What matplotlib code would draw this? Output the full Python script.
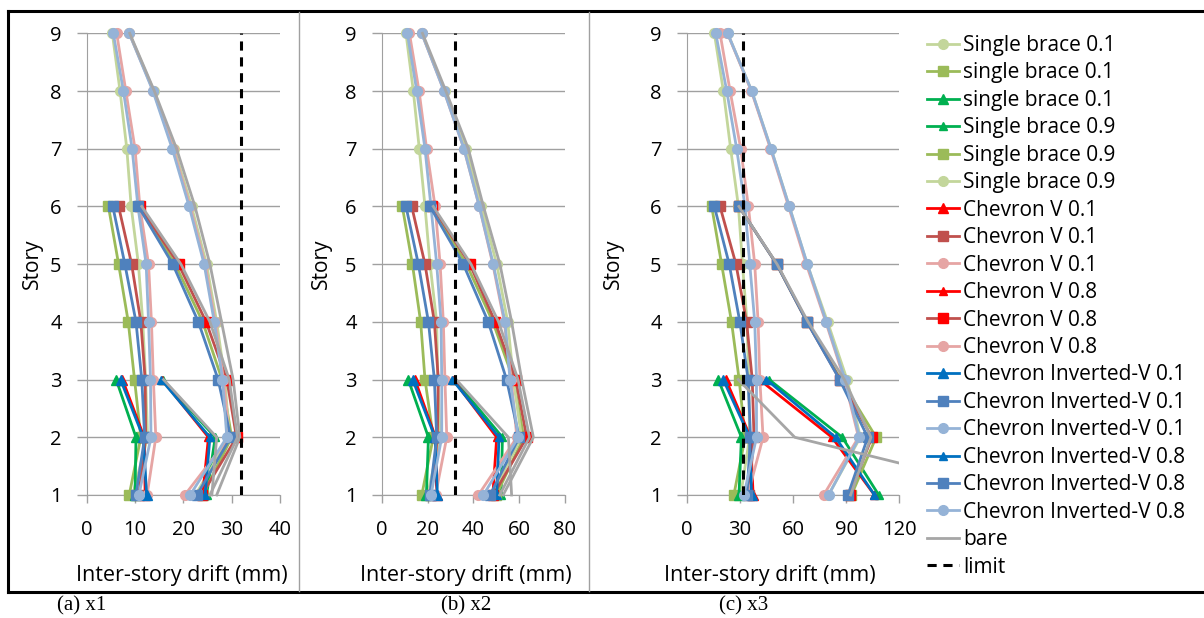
import matplotlib
matplotlib.use("Agg")
import matplotlib.pyplot as plt
from matplotlib.lines import Line2D
from matplotlib.transforms import Bbox, TransformedBbox

# ---------------- data (values listed from story 1 upward) ----------------
stories9 = [1, 2, 3, 4, 5, 6, 7, 8, 9]
stories6 = [1, 2, 3, 4, 5, 6]
stories3 = [1, 2, 3]
limit_drift = 32

# panel (a) x1
a_sb01_c = [9.5, 12.6, 12.2, 11.6, 10.7, 9.2, 8.3, 6.9, 5.3]
a_sb01_s = [8.8, 11.2, 9.9, 8.6, 6.6, 4.5]
a_sb01_t = [10.0, 10.2, 6.1]
a_sb09_t = [24.8, 26.6, 15.7]
a_sb09_s = [24.0, 30.0, 28.0, 24.0, 18.3, 10.8]
a_sb09_c = [22.5, 29.5, 28.6, 26.9, 24.8, 21.7, 18.1, 13.9, 8.8]
a_cv01_t = [12.1, 11.9, 7.4]
a_cv01_s = [10.8, 12.2, 12.1, 11.2, 9.3, 6.6]
a_cv01_c = [12.5, 14.3, 13.8, 13.4, 12.8, 11.0, 10.0, 8.1, 6.2]
a_cv08_t = [24.0, 25.2, 15.6]
a_cv08_s = [23.8, 31.0, 29.0, 24.7, 19.0, 11.0]
a_cv08_c = [20.3, 29.5, 28.3, 26.6, 24.5, 21.4, 17.9, 13.8, 8.8]
a_iv01_t = [12.4, 11.7, 7.0]
a_iv01_s = [10.2, 12.0, 11.4, 10.2, 7.9, 5.4]
a_iv01_c = [10.8, 13.3, 13.2, 12.8, 12.3, 10.6, 9.4, 7.6, 5.5]
a_iv08_t = [24.5, 25.5, 15.4]
a_iv08_s = [22.8, 29.8, 27.2, 23.1, 17.8, 10.7]
a_iv08_c = [21.4, 29.0, 28.1, 26.4, 24.3, 21.2, 17.7, 13.7, 8.8]
a_bare9 = [26.9, 31.7, 30.3, 27.9, 25.5, 22.4, 18.6, 14.0, 8.9]
a_bare6 = [25.5, 31.2, 29.5, 25.5, 19.5, 11.4]
a_bare3 = [25.9, 26.9, 15.9]

# panel (b) x2
b_sb01_c = [20.0, 25.5, 24.5, 24.0, 21.1, 18.9, 16.4, 13.8, 10.6]
b_sb01_s = [17.5, 22.5, 18.9, 17.0, 13.4, 9.0]
b_sb01_t = [19.5, 20.4, 11.6]
b_sb09_t = [52.1, 52.7, 31.7]
b_sb09_s = [50.0, 62.0, 57.5, 48.5, 37.0, 21.5]
b_sb09_c = [48.0, 61.0, 57.5, 55.0, 50.2, 43.5, 37.0, 27.5, 17.5]
b_cv01_t = [24.0, 23.5, 14.5]
b_cv01_s = [21.5, 24.3, 24.7, 23.0, 18.9, 13.1]
b_cv01_c = [23.5, 28.4, 27.6, 26.9, 25.5, 23.3, 19.6, 16.3, 12.1]
b_cv08_t = [48.5, 50.2, 31.2]
b_cv08_s = [48.7, 63.3, 58.5, 49.5, 38.5, 22.1]
b_cv08_c = [42.2, 59.0, 56.5, 53.5, 48.5, 42.6, 35.9, 27.2, 17.5]
b_iv01_t = [24.3, 23.3, 13.5]
b_iv01_s = [21.0, 24.0, 23.0, 20.4, 16.0, 10.6]
b_iv01_c = [21.5, 26.2, 26.2, 25.9, 24.0, 21.5, 18.9, 15.3, 11.2]
b_iv08_t = [50.2, 51.2, 30.8]
b_iv08_s = [47.3, 60.0, 54.5, 46.5, 35.6, 21.1]
b_iv08_c = [44.4, 59.6, 56.0, 53.8, 48.7, 42.6, 35.9, 27.2, 17.5]
b_bare9 = [53.0, 66.2, 61.1, 56.7, 51.6, 44.4, 37.8, 28.0, 17.8]
b_bare6 = [51.5, 64.5, 59.5, 51.0, 39.0, 22.5]
b_bare3 = [56.7, 55.3, 32.5]

# panel (c) x3
c_sb01_c = [30.5, 35.5, 35.0, 34.0, 31.5, 29.2, 24.8, 20.7, 15.6]
c_sb01_s = [26.6, 33.0, 29.6, 25.3, 19.7, 14.1]
c_sb01_t = [29.5, 30.9, 17.8]
c_sb09_t = [108.4, 87.8, 46.5]
c_sb09_s = [93.0, 106.9, 87.0, 67.9, 50.8, 29.5]
c_sb09_c = [80.0, 98.0, 90.5, 79.5, 68.0, 57.9, 47.6, 36.7, 23.1]
c_cv01_t = [37.5, 36.0, 22.1]
c_cv01_s = [35.0, 38.0, 37.0, 33.8, 27.8, 18.8]
c_cv01_c = [34.5, 43.1, 41.3, 40.3, 38.4, 34.8, 30.5, 24.5, 18.8]
c_cv08_t = [106.0, 82.0, 41.0]
c_cv08_s = [92.0, 104.5, 86.5, 67.9, 50.8, 29.5]
c_cv08_c = [77.3, 97.0, 89.0, 78.5, 67.5, 57.5, 47.3, 36.5, 23.0]
c_iv01_t = [36.6, 35.6, 20.6]
c_iv01_s = [34.0, 36.0, 34.7, 30.0, 24.0, 15.6]
c_iv01_c = [32.3, 39.4, 39.4, 38.4, 35.6, 32.9, 28.2, 22.6, 16.4]
c_iv08_t = [106.0, 84.0, 45.0]
c_iv08_s = [91.0, 102.2, 86.3, 67.9, 50.8, 29.5]
c_iv08_c = [80.1, 97.5, 89.4, 78.8, 68.1, 57.9, 47.6, 36.7, 23.1]
c_bare6 = [92.5, 104.0, 89.0, 68.5, 51.0, 29.5]
c_bare3 = [193.0, 61.0, 29.1]

series_labels = ["Single brace 0.1", "single brace 0.1", "single brace 0.1",
                 "Single brace 0.9", "Single brace 0.9", "Single brace 0.9",
                 "Chevron V 0.1", "Chevron V 0.1", "Chevron V 0.1",
                 "Chevron V 0.8", "Chevron V 0.8", "Chevron V 0.8",
                 "Chevron Inverted-V 0.1", "Chevron Inverted-V 0.1", "Chevron Inverted-V 0.1",
                 "Chevron Inverted-V 0.8", "Chevron Inverted-V 0.8", "Chevron Inverted-V 0.8"]

panel_names = ["(a) x1", "(b) x2", "(c) x3"]
x_maxes = [40, 80, 120]
x_steps = [10, 20, 30]

# ---------------- styles ----------------
LG, G, DG = "#C3D69B", "#9BBB59", "#00B050"
R, DR, PK = "#FF0000", "#C0504D", "#E6A5A4"
B, MB, LB = "#0070C0", "#4F81BD", "#95B3D7"
GRAY = "#A6A6A6"
# (line colour, marker, marker size, marker colour)
styles = [
    (LG, "o", 7, LG), (G, "s", 6.5, G), (DG, "^", 7.5, DG),
    (DG, "^", 5.5, DG), (G, "s", 6.5, G), (LG, "o", 7, LG),
    (R, "^", 7.5, R), (DR, "s", 6.5, DR), (PK, "o", 7, PK),
    (R, "^", 5.5, R), (DR, "s", 6.5, R), (PK, "o", 7, PK),
    (B, "^", 7.5, B), (MB, "s", 6.5, MB), (LB, "o", 7, LB),
    (B, "^", 5.5, B), (MB, "s", 6.5, MB), (LB, "o", 7, LB),
]

panel_series = [
    [a_sb01_c, a_sb01_s, a_sb01_t, a_sb09_t, a_sb09_s, a_sb09_c,
     a_cv01_t, a_cv01_s, a_cv01_c, a_cv08_t, a_cv08_s, a_cv08_c,
     a_iv01_t, a_iv01_s, a_iv01_c, a_iv08_t, a_iv08_s, a_iv08_c],
    [b_sb01_c, b_sb01_s, b_sb01_t, b_sb09_t, b_sb09_s, b_sb09_c,
     b_cv01_t, b_cv01_s, b_cv01_c, b_cv08_t, b_cv08_s, b_cv08_c,
     b_iv01_t, b_iv01_s, b_iv01_c, b_iv08_t, b_iv08_s, b_iv08_c],
    [c_sb01_c, c_sb01_s, c_sb01_t, c_sb09_t, c_sb09_s, c_sb09_c,
     c_cv01_t, c_cv01_s, c_cv01_c, c_cv08_t, c_cv08_s, c_cv08_c,
     c_iv01_t, c_iv01_s, c_iv01_c, c_iv08_t, c_iv08_s, c_iv08_c],
]
panel_bare = [[a_bare9, a_bare6, a_bare3], [b_bare9, b_bare6, b_bare3], [c_bare6, c_bare3]]

FONT = "Open Sans"
plt.rcParams["font.family"] = [FONT, "DejaVu Sans"]

W, H = 1204, 618
fig = plt.figure(figsize=(W / 100, H / 100), dpi=100)


def fx(px):
    return px / W


def fy(py):
    return 1 - py / H


# axes pixel boxes: left, top(story 9), right(x max), bottom(story 1)
boxes = [(86.7, 33.3, 280.0, 495.0), (381.7, 33.3, 565.0, 495.0), (686.7, 33.3, 899.3, 495.0)]
ylabel_x = [32, 321, 613]
xlabel_x = [182, 466, 770]
caption_x = [82, 466, 744]

legend_handles = None
for i in range(3):
    l, t, r, b = boxes[i]
    ax = fig.add_axes([fx(l), fy(b), (r - l) / W, (b - t) / H])
    ax.set_xlim(0, x_maxes[i])
    ax.set_ylim(1, 9)
    ax.set_xticks(list(range(0, x_maxes[i] + 1, x_steps[i])))
    ax.set_yticks(stories9)
    ax.grid(axis="y", color="#A0A0A0", lw=1.0, zorder=0)
    for s in ["top", "right"]:
        ax.spines[s].set_visible(False)
    ax.spines["left"].set_color("#A0A0A0")
    ax.spines["bottom"].set_color("#A0A0A0")
    ax.tick_params(axis="y", length=7, width=1, color="#A0A0A0", pad=11, labelsize=14.5)
    ax.tick_params(axis="x", length=6, width=1, color="#A0A0A0", pad=12, labelsize=14.5)
    clipbox = TransformedBbox(Bbox([[0, -0.04], [1.0, 1.04]]), ax.transAxes)
    handles = []
    for k, vals in enumerate(panel_series[i]):
        lc, mk, ms, mc = styles[k]
        ys = stories9[:len(vals)]
        ln, = ax.plot(vals, ys, color=lc, lw=2.0, marker=mk, ms=ms,
                      mfc=mc, mec=mc, zorder=3, label=series_labels[k])
        ln.set_clip_box(clipbox)
        handles.append(ln)
    for vals in panel_bare[i]:
        ys = stories9[:len(vals)]
        bl, = ax.plot(vals, ys, color=GRAY, lw=2.0, zorder=3, label="bare")
        bl.set_clip_box(clipbox)
    lim, = ax.plot([limit_drift, limit_drift], [1, 9], color="black", lw=2.2,
                   ls=(0, (3, 2.2)), zorder=4, label="limit")
    if legend_handles is None:
        legend_handles = handles + [bl, lim]
    fig.text(fx(ylabel_x[i]), fy((t + b) / 2), "Story", rotation=90,
             ha="center", va="center", fontsize=15)
    fig.text(fx(xlabel_x[i]), fy(575), "Inter-story drift (mm)",
             ha="center", va="center", fontsize=15.5)
    fig.text(fx(caption_x[i]), fy(606), panel_names[i], ha="center", va="center",
             fontsize=15, family="Liberation Serif")

leg = fig.legend(handles=legend_handles, labels=series_labels + ["bare", "limit"],
                 loc="upper left", bbox_to_anchor=(fx(927), fy(35)),
                 frameon=False, fontsize=15, handlelength=1.55, handletextpad=0.2,
                 labelspacing=0.31, borderaxespad=0, borderpad=0)

# outer frame
fig.add_artist(Line2D([fx(8), fx(1204)], [fy(11), fy(11)], transform=fig.transFigure,
                      color="black", lw=2.2))
fig.add_artist(Line2D([fx(8), fx(1204)], [fy(592), fy(592)], transform=fig.transFigure,
                      color="black", lw=2.2))
fig.add_artist(Line2D([fx(8), fx(8)], [fy(11), fy(592)], transform=fig.transFigure,
                      color="black", lw=2.2))
for sx in [298.5, 588.5]:
    fig.add_artist(Line2D([fx(sx), fx(sx)], [fy(12), fy(591)], transform=fig.transFigure,
                          color="#A0A0A0", lw=1.0))

fig.savefig("out.png", dpi=100)
